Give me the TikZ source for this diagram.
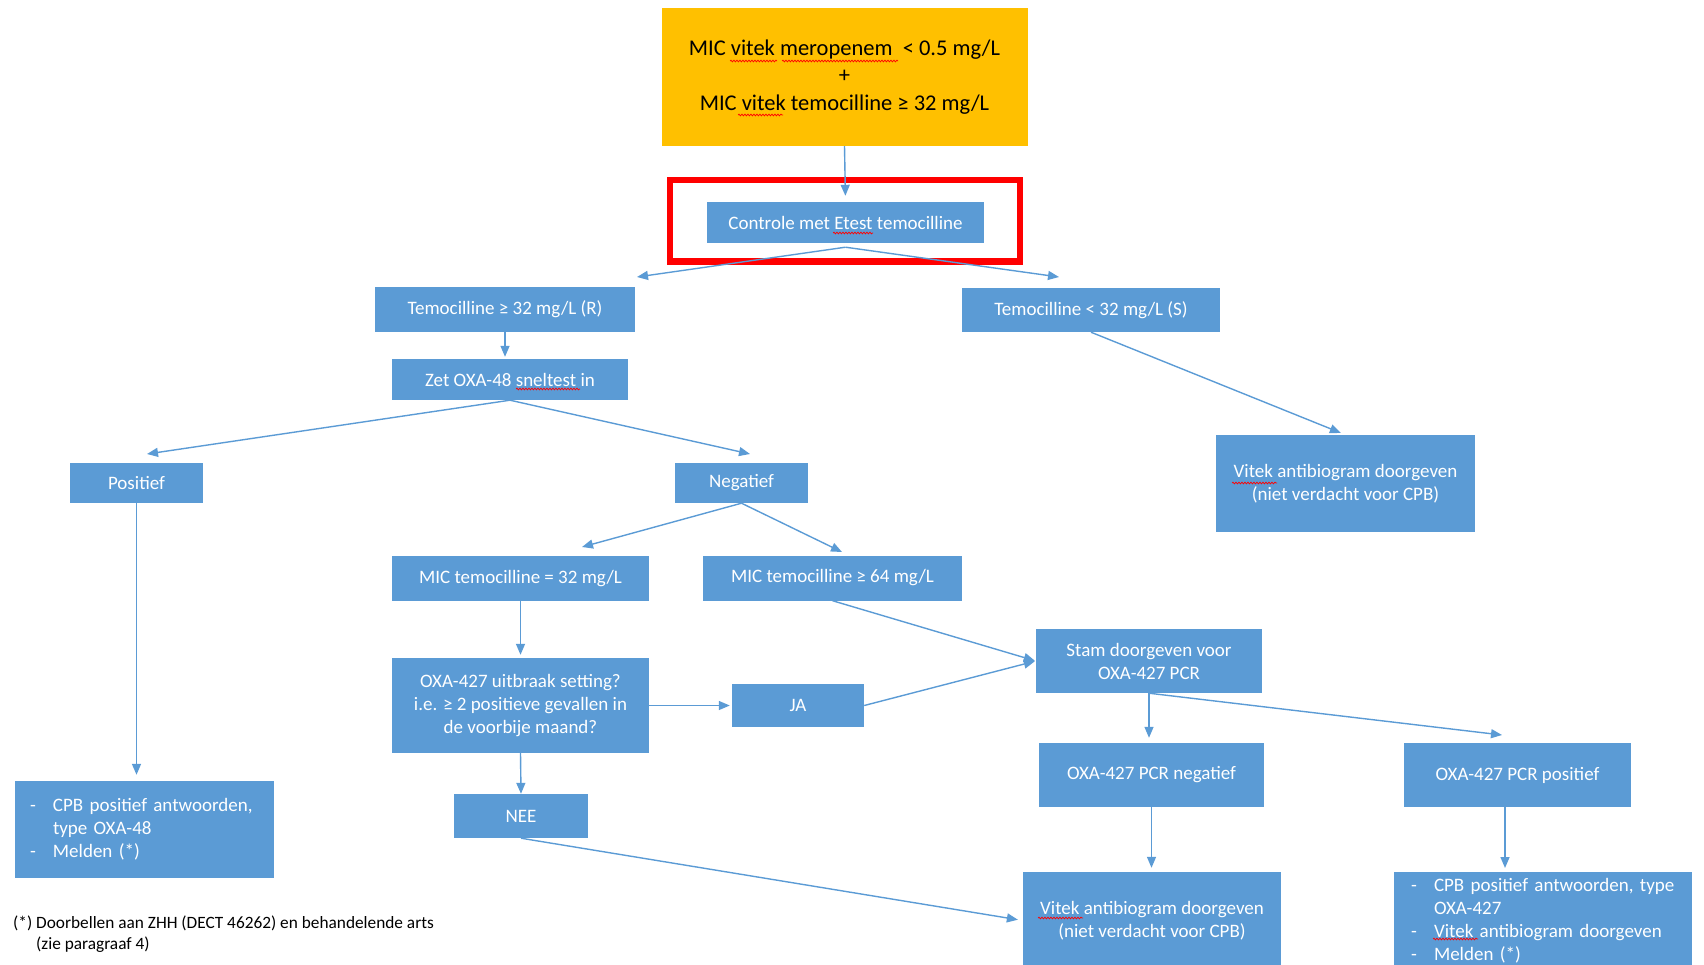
\documentclass[tikz,border=0pt]{standalone}
\usepackage{fontspec}
\setmainfont{Carlito}
\usetikzlibrary{arrows.meta, decorations.pathmorphing}

\definecolor{boxblue}{HTML}{5B9BD5}
\definecolor{lineblue}{HTML}{5B9BD5}
\definecolor{startorange}{HTML}{FFC000}
\definecolor{markred}{HTML}{FF0000}

\tikzset{
  box/.style={rectangle, fill=boxblue, text=white, inner sep=0pt, align=center,
    font=\fontsize{19}{23}\selectfont},
  listbox/.style={box, align=left, inner xsep=#1, font=\fontsize{19}{23}\selectfont},
  startbox/.style={rectangle, fill=startorange, text=black, inner sep=0pt, align=center,
    font=\fontsize{22.5}{27.7}\selectfont},
  conn/.style={draw=lineblue, line width=1.4pt, -{Triangle[length=11pt,width=9pt]}},
  redframe/.style={draw=markred, line width=6.5pt},
  spellmark/.style={draw=markred, line width=0.7pt,
    decorate, decoration={snake, amplitude=0.9pt, segment length=3pt}}
}

\begin{document}
\begin{tikzpicture}[x=1pt, y=-1pt]
  \useasboundingbox (0,0) rectangle (1704,964);

  % Startvoorwaarde
  \node[startbox, minimum width=366pt, minimum height=138pt] (start) at (844.5,77)
    {MIC vitek meropenem \ < 0.5 mg/L\\+\\MIC vitek temocilline ≥ 32 mg/L};

  % Controle met Etest (rood omkaderd)
  \node[box, minimum width=277pt, minimum height=41pt] (ctrl) at (845.5,222.5) {Controle met Etest temocilline};
  \draw[redframe] (670,180) rectangle (1020,261.5);

  % Resultaat Etest
  \node[box, minimum width=260pt, minimum height=45pt] (tempR) at (505,309.5) {Temocilline ≥ 32 mg/L (R)};
  \node[box, minimum width=258pt, minimum height=44pt] (tempS) at (1091,310) {Temocilline < 32 mg/L (S)};
  \node[box, minimum width=236pt, minimum height=41pt] (zet) at (510,379.5) {Zet OXA-48 sneltest in};
  \node[box, minimum width=259pt, minimum height=97pt] (vitekS) at (1345.5,483.5)
    {Vitek antibiogram doorgeven\\(niet verdacht voor CPB)};

  % Sneltest
  \node[box, minimum width=133pt, minimum height=40pt] (pos) at (136.5,483) {Positief};
  \node[box, minimum width=133pt, minimum height=40pt] (neg) at (741.5,483) {Negatief};
  \node[listbox=15pt, minimum width=259pt, minimum height=97pt, text width=229pt] (cpb48) at (144.5,829.5)
    {\begin{tabular}{@{}p{23pt}@{}l@{}}-&CPB positief antwoorden,\\&type OXA-48\\-&Melden (*)\end{tabular}};

  % MIC temocilline
  \node[box, minimum width=257pt, minimum height=45pt] (mic32) at (520.5,578.5) {MIC temocilline = 32 mg/L};
  \node[box, minimum width=259pt, minimum height=45pt] (mic64) at (832.5,578) {MIC temocilline ≥ 64 mg/L};
  \node[box, minimum width=257pt, minimum height=95pt] (uitbraak) at (520.5,705.5)
    {OXA-427 uitbraak setting?\\i.e. ≥ 2 positieve gevallen in\\de voorbije maand?};
  \node[box, minimum width=132pt, minimum height=43pt] (ja) at (798,705.5) {JA};
  \node[box, minimum width=134pt, minimum height=44pt] (nee) at (521,816) {NEE};

  % PCR
  \node[box, minimum width=226pt, minimum height=64pt] (stam) at (1149,661) {Stam doorgeven voor\\OXA-427 PCR};
  \node[box, minimum width=225pt, minimum height=64pt] (pcrneg) at (1151.5,775) {OXA-427 PCR negatief};
  \node[box, minimum width=227pt, minimum height=64pt] (pcrpos) at (1517.5,775) {OXA-427 PCR positief};
  \node[box, minimum width=258pt, minimum height=97pt] (vitekE) at (1152,920.5)
    {Vitek antibiogram doorgeven\\(niet verdacht voor CPB)};
  \node[listbox=17pt, minimum width=298pt, minimum height=98pt, text width=264pt] (cpbE) at (1543,921)
    {\begin{tabular}{@{}p{23pt}@{}l@{}}-&CPB positief antwoorden, type\\&OXA-427\\-&Vitek antibiogram doorgeven\\-&Melden (*)\end{tabular}};

  % Voetnoot
  \node[anchor=north west, inner sep=0pt, font=\fontsize{17.3}{21.5}\selectfont] (voetnoot) at (13,913)
    {\begin{tabular}{@{}l@{ }l@{}}(*)&Doorbellen aan ZHH (DECT 46262) en behandelende arts\\&(zie paragraaf 4)\end{tabular}};

  % vrije pijlpunten
  \coordinate (ctrlfork) at ([yshift=-4pt]ctrl.south);
  \coordinate (tRtip) at (637,277);
  \coordinate (tStip) at (1059,277);
  \coordinate (postip) at (147,454);
  \coordinate (negtip) at (750,454);
  \coordinate (m32tip) at (582,547);
  \coordinate (m64tip) at (842,552);
  \coordinate (pcrpostip) at (1502,735);
  \coordinate (pcrposout) at (1505,807);
  \coordinate (cpbtip) at (1505,868);

  % Verbindingen
  \draw[conn, shorten >=6pt] (start.south) -- (ctrl.north);
  \draw[conn] (ctrlfork) -- (tRtip);
  \draw[conn] (ctrlfork) -- (tStip);
  \draw[conn, shorten >=2pt] (tempR.south) -- (tempR.south |- zet.north);
  \draw[conn] (zet.south) -- (postip);
  \draw[conn] (zet.south) -- (negtip);
  \draw[conn, shorten >=5pt] (tempS.south) -- (vitekS.north);
  \draw[conn, shorten >=6pt] (pos.south) -- (pos.south |- cpb48.north);
  \draw[conn] (neg.south) -- (m32tip);
  \draw[conn] (neg.south) -- (m64tip);
  \draw[conn, shorten >=3pt] (mic32.south) -- (uitbraak.north);
  \draw[conn, shorten >=2pt] (uitbraak.east) -- (ja.west);
  \draw[conn] (uitbraak.south) -- (nee.north);
  \draw[conn, shorten >=1pt] (ja.east) -- (stam.west);
  \draw[conn, shorten >=1pt] (mic64.south) -- (stam.west);
  \draw[conn, shorten >=5pt] (stam.south) -- (stam.south |- pcrneg.north);
  \draw[conn] (stam.south) -- (pcrpostip);
  \draw[conn, shorten >=4pt] (pcrneg.south) -- (pcrneg.south |- vitekE.north);
  \draw[conn] (pcrposout) -- (cpbtip);
  \draw[conn, shorten >=5pt] (nee.south) -- (vitekE.west);

  % spellingsmarkeringen
  \draw[spellmark] (730,61) -- (777,61);
  \draw[spellmark] (782,61) -- (898,61);
  \draw[spellmark] (738,115) -- (783,115);
  \draw[spellmark] (833,233) -- (873,233);
  \draw[spellmark] (516,389) -- (580,389);
  \draw[spellmark] (1232,483) -- (1277,483);
  \draw[spellmark] (1038,918) -- (1083,918);
  \draw[spellmark] (1433,939) -- (1478,939);
\end{tikzpicture}
\end{document}
